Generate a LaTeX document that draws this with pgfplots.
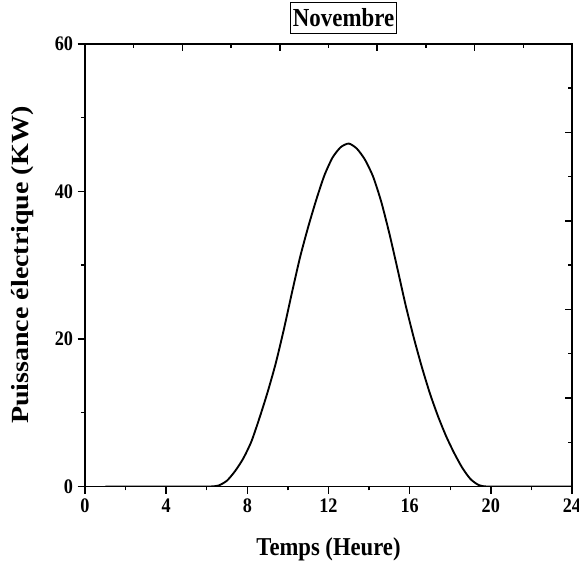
\documentclass[border=0pt]{standalone}
\usepackage{pgfplots}
\pgfplotsset{compat=1.18}
\usepackage{fontspec}
\setmainfont{Liberation Serif}[FakeStretch=0.88]
\newfontfamily\ylabfont{Liberation Serif}

\begin{document}
\begin{tikzpicture}
\begin{axis}[
  at={(0,0)}, anchor=south west,
  scale only axis, width=365.25pt, height=331.9pt,
  xmin=0, xmax=24, ymin=0, ymax=60,
  axis line style={line width=1.3pt},
  xtick={0,4,...,24}, ytick={0,20,40,60},
  minor xtick={2,6,...,22}, minor ytick={10,30,50},
  xtick pos=left, ytick pos=left,
  tick align=outside,
  major tick length=5.5pt, minor tick length=3pt,
  tick style={line width=1.1pt, black},
  ticklabel style={font=\fontsize{15.5}{17}\selectfont\bfseries},
  /pgf/number format/assume math mode=true,
  xlabel={Temps (Heure)},
  xlabel style={font=\fontsize{19.3}{22}\selectfont\bfseries, at={(axis description cs:0.5,-0.141)}, anchor=center},
  ylabel={\scalebox{1}[0.88]{\ylabfont\bfseries Puissance électrique (KW)}},
  ylabel style={font=\fontsize{21}{24}\selectfont, at={(axis description cs:-0.128,0.5)}, anchor=center},
  title={Novembre},
  title style={at={(axis description cs:0.531,1.005)}, anchor=south, draw, line width=0.8pt,
    font=\fontsize{19.5}{22}\selectfont\bfseries, inner xsep=2pt, inner ysep=4.5pt},
]
\addplot[black, line width=1.4pt, mark=none, smooth, tension=0.4] coordinates {
(1,0) (3,0) (5.5,0) (6.2,0) (6.6,0.15) (7.0,0.8) (7.4,2.1) (7.8,3.8) (8.2,6.1)
(8.6,9.3) (9.0,12.8) (9.4,16.7) (9.8,21.3) (10.2,26.3) (10.6,31.1) (11.0,35.2)
(11.4,38.9) (11.8,42.2) (12.2,44.6) (12.6,46.0) (13.0,46.5) (13.4,45.8) (13.8,44.3)
(14.2,42.0) (14.6,38.6) (15.0,34.3) (15.4,29.5) (15.8,24.6) (16.2,20.2) (16.6,16.2)
(17.0,12.6) (17.4,9.5) (17.8,6.8) (18.2,4.5) (18.6,2.5) (19.0,1.0) (19.4,0.2)
(19.8,0) (21,0) (24,0)
};
\end{axis}
\begin{axis}[
  at={(0,0)}, anchor=south west,
  scale only axis, width=365.25pt, height=331.9pt,
  xmin=0, xmax=24, ymin=0, ymax=60,
  axis line style={line width=1.3pt},
  xtick={4.8,9.6,14.4,19.2}, minor xtick={2.4,7.2,12,16.8,21.6},
  ytick={12,24,36,48}, minor ytick={6,18,30,42,54},
  xtick pos=right, ytick pos=right,
  xticklabels={}, yticklabels={},
  tick align=inside,
  major tick length=5.5pt, minor tick length=3pt,
  tick style={line width=1.1pt, black},
]
\end{axis}
\pgfresetboundingbox
\useasboundingbox (-63.75pt,-59.625pt) rectangle (370.5pt,364.875pt);
\end{tikzpicture}
\end{document}
